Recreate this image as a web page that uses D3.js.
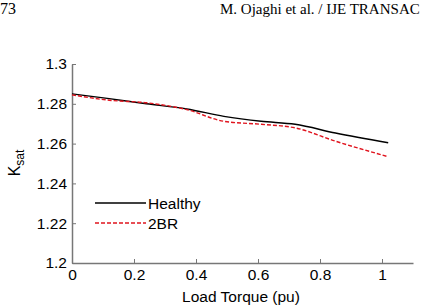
<!DOCTYPE html>
<html>
<head>
<meta charset="utf-8">
<script src="https://cdn.jsdelivr.net/npm/d3@7"></script>
<style>
  body { margin: 0; background: #fff; }
  svg { display: block; }
  .tick text { font-family: "Liberation Sans", Arial, sans-serif; font-size: 15.5px; fill: #000; }
</style>
</head>
<body>
<svg id="chart" width="422" height="306"></svg>
<script>
// data
const loadTorque = [0, 0.12, 0.24, 0.37, 0.49, 0.61, 0.72, 0.85, 1.02];
const healthy    = [1.2850, 1.2826, 1.2800, 1.2774, 1.2737, 1.2712, 1.2697, 1.2653, 1.2604];
const br2        = [1.2845, 1.2818, 1.2805, 1.2771, 1.2712, 1.2697, 1.2679, 1.2612, 1.2534];
const xTicks = [0, 0.2, 0.4, 0.6, 0.8, 1];
const yTicks = [1.2, 1.22, 1.24, 1.26, 1.28, 1.3];
const seriesNames = ["Healthy", "2BR"];

const svg = d3.select("#chart");
const margin = {left: 72, top: 64, right: 9, bottom: 43};
const W = 422, H = 306;
const sans = "'Liberation Sans', Arial, sans-serif";
const serif = "'Liberation Serif', 'DejaVu Serif', serif";

const x = d3.scaleLinear().domain([0, 1.1]).range([margin.left, W - margin.right]);
const y = d3.scaleLinear().domain([1.2, 1.3]).range([H - margin.bottom, margin.top]);

// page header text (cropped from the paper)
svg.append("text").attr("x", 0).attr("y", 14)
   .style("font-family", serif).style("font-size", "16px")
   .text("73");
svg.append("text").attr("x", 220).attr("y", 14)
   .style("font-family", serif).style("font-size", "15px")
   .text("M. Ojaghi et al. / IJE TRANSAC");

// axes
const xAxis = svg.append("g")
    .attr("transform", `translate(0,${y(1.2)})`)
    .call(d3.axisBottom(x).tickValues(xTicks).tickFormat(d3.format("")).tickSizeInner(-4).tickSizeOuter(0).tickPadding(6));
const yAxis = svg.append("g")
    .attr("transform", `translate(${x(0)},0)`)
    .call(d3.axisLeft(y).tickValues(yTicks).tickFormat(d3.format("")).tickSizeInner(-4).tickSizeOuter(0).tickPadding(5));
[xAxis, yAxis].forEach(a => {
  a.select(".domain").attr("stroke", "#777").attr("stroke-width", 1.5);
  a.selectAll(".tick line").attr("stroke", "#777");
});

// axis titles
svg.append("text")
   .attr("x", 241).attr("y", 302).attr("text-anchor", "middle")
   .style("font-family", sans).style("font-size", "15.5px")
   .text("Load Torque (pu)");
const yl = svg.append("text")
   .attr("transform", "translate(20,163) rotate(-90)").attr("text-anchor", "middle")
   .style("font-family", sans).style("font-size", "16px");
yl.append("tspan").text("K");
yl.append("tspan").attr("dy", 4).style("font-size", "12px").text("sat");

// lines
const line = d3.line().x((d, i) => x(loadTorque[i])).y(d => y(d)).curve(d3.curveMonotoneX);
svg.append("path").datum(healthy).attr("d", line)
   .attr("fill", "none").attr("stroke", "#000").attr("stroke-width", 1.4);
svg.append("path").datum(br2).attr("d", line)
   .attr("fill", "none").attr("stroke", "#e0141e").attr("stroke-width", 1.4)
   .attr("stroke-dasharray", "4,2");

// legend
const leg = [
  {name: seriesNames[0], color: "#000", dash: null, y: 203},
  {name: seriesNames[1], color: "#e0141e", dash: "4,2", y: 223}
];
leg.forEach(l => {
  svg.append("line").attr("x1", 95).attr("x2", 146).attr("y1", l.y).attr("y2", l.y)
     .attr("stroke", l.color).attr("stroke-width", 1.4).attr("stroke-dasharray", l.dash);
  svg.append("text").attr("x", 148).attr("y", l.y + 5.5)
     .style("font-family", sans).style("font-size", "15.5px")
     .text(l.name);
});
</script>
</body>
</html>
